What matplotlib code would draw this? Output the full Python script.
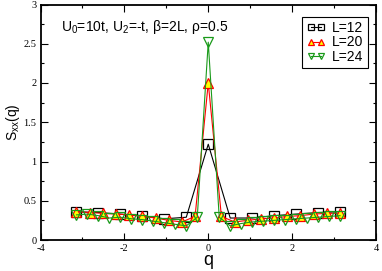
import numpy as np
import matplotlib
matplotlib.use("Agg")
import matplotlib.pyplot as plt

# Data
L_values = [12, 20, 24]
S12 = [0.36, 0.35, 0.33, 0.31, 0.27, 0.29, 1.22, 0.28, 0.28, 0.31, 0.33, 0.35, 0.36]
S20 = [0.36, 0.35, 0.34, 0.33, 0.32, 0.30, 0.28, 0.25, 0.23, 0.30, 2.00,
       0.30, 0.23, 0.25, 0.27, 0.28, 0.30, 0.31, 0.33, 0.34, 0.34]
S24 = [0.32, 0.33, 0.31, 0.28, 0.29, 0.27, 0.26, 0.24, 0.22, 0.20, 0.18, 0.29, 2.52,
       0.29, 0.18, 0.21, 0.23, 0.24, 0.25, 0.26, 0.27, 0.28, 0.29, 0.30, 0.31]
labels = ["L=12", "L=20", "L=24"]
xticks = [-4, -2, 0, 2, 4]
yticks = [0, 0.5, 1, 1.5, 2, 2.5, 3]
xticklabels = ["-4", "-2", "0", "2", "4"]
yticklabels = ["0", "0.5", "1", "1.5", "2", "2.5", "3"]

def qgrid(L):
    n = np.arange(-L // 2, L // 2 + 1)
    return 2 * np.pi * n / L

fig = plt.figure(figsize=(3.82, 2.71), dpi=100)
ax = fig.add_axes([40.5 / 382, 31 / 271, 335.5 / 382, 235.5 / 271])

ax.plot(qgrid(12), S12, color="black", lw=0.8, marker="s", ms=6.5,
        mfc="none", mec="black", mew=0.9, label=labels[0])
ax.plot(qgrid(20), S20, color="red", lw=0.8, marker="^", ms=7,
        mfc="yellow", mec="red", mew=0.9, label=labels[1])
ax.plot(qgrid(24), S24, color="#1a9a1a", lw=0.8, marker="v", ms=7,
        mfc="none", mec="#1a9a1a", mew=0.9, label=labels[2])

ax.set_xlim(-4, 4)
ax.set_ylim(0, 3)
ax.set_xticks(xticks)
ax.set_xticklabels(xticklabels, family="Liberation Serif")
ax.set_xticks([-3, -1, 1, 3], minor=True)
ax.set_yticks(yticks)
ax.set_yticklabels(yticklabels, family="Liberation Serif")
ax.set_yticks([0.25, 0.75, 1.25, 1.75, 2.25, 2.75], minor=True)
ax.tick_params(which="both", direction="in", top=True, right=True, width=0.8)
ax.tick_params(which="major", length=5, labelsize=7.5, pad=3)
ax.tick_params(which="minor", length=2.5)
for s in ax.spines.values():
    s.set_linewidth(1.3)

ax.set_xlabel("q", family="Liberation Sans", fontsize=13, labelpad=-1)
ax.set_ylabel(r"S$_{\mathregular{xx}}$(q)", family="Liberation Sans", fontsize=10, labelpad=1)

ax.text(-3.5, 2.71, r"U$_{\mathregular{0}}$=10t, U$_{\mathregular{2}}$=-t, β=2L, ρ=0.5",
        family="Liberation Sans", fontsize=10, va="center", ha="left")

leg = ax.legend(loc="upper right", bbox_to_anchor=(367.7 / 382, 254 / 271),
                bbox_transform=fig.transFigure, frameon=True,
                fancybox=False, edgecolor="black", framealpha=1, numpoints=2,
                prop={"family": "Liberation Sans", "size": 10},
                handlelength=1.35, handletextpad=0.5, borderpad=0.3,
                labelspacing=0.02, borderaxespad=0.0, markerscale=0.7)
leg.get_frame().set_linewidth(0.8)

fig.savefig("out.png", dpi=100)
